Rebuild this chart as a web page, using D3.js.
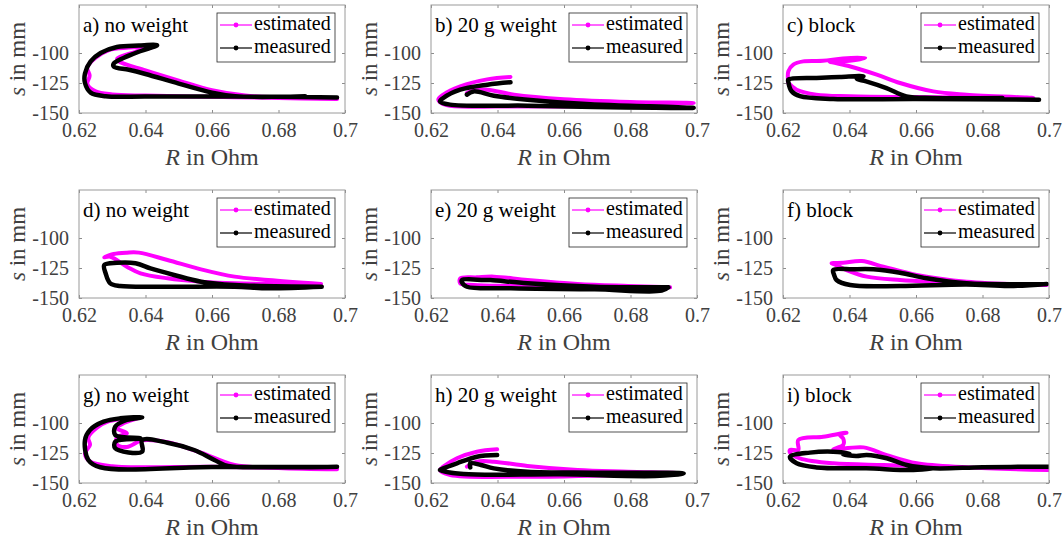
<!DOCTYPE html>
<html>
<head>
<meta charset="utf-8">
<script src="https://cdn.jsdelivr.net/npm/d3@7"></script>
<style>
body { margin: 0; background: #fff; }
svg { display: block; }
</style>
</head>
<body>
<svg width="1063" height="542"></svg>
<script>
var xTicks = [0.62, 0.64, 0.66, 0.68, 0.7];
var yTicks = [-150, -125, -100];
var titles = ["a) no weight", "b) 20 g weight", "c) block",
              "d) no weight", "e) 20 g weight", "f) block",
              "g) no weight", "h) 20 g weight", "i) block"];
var legendLabels = ["estimated", "measured"];

// [R in Ohm, s in mm]
var estA = [[0.6976,-138.3],[0.68,-137.5],[0.66,-136.5],[0.64,-135.5],[0.63,-134.5],[0.625,-132],[0.6225,-126],[0.6232,-119],[0.6225,-112],[0.625,-104],[0.629,-97.5],[0.635,-95.5],[0.6425,-94.5],[0.637,-99],[0.6315,-104.5],[0.632,-107],[0.64,-114.5],[0.65,-123],[0.66,-131],[0.67,-135.5],[0.68,-137],[0.6976,-138.3]];
var measA = [[0.6976,-137],[0.68,-136.5],[0.66,-136.3],[0.64,-136.2],[0.628,-136],[0.6235,-133],[0.6218,-125],[0.6218,-117],[0.6235,-107],[0.6265,-100],[0.6314,-95],[0.638,-93.8],[0.6435,-93.6],[0.637,-100],[0.6304,-109],[0.6305,-111.5],[0.635,-114],[0.64,-117.5],[0.65,-125.5],[0.66,-133],[0.667,-136],[0.68,-136.5],[0.688,-136]];

var estB = [[0.6439,-120],[0.6369,-122],[0.6288,-127.8],[0.6237,-134.7],[0.6222,-138.9],[0.6247,-143.5],[0.64,-144.5],[0.66,-144.5],[0.68,-143],[0.699,-141.7],[0.68,-140.8],[0.66,-138.5],[0.645,-134.7],[0.637,-130.6],[0.633,-131],[0.6308,-133.3]];
var measB = [[0.6439,-124.4],[0.637,-126.4],[0.6288,-130.6],[0.6237,-137.5],[0.6227,-140.3],[0.6257,-143],[0.649,-143.9],[0.6692,-145],[0.699,-145.8],[0.6859,-144.4],[0.6692,-143],[0.649,-138.9],[0.6389,-135.6],[0.6328,-132],[0.6308,-134.7]];

var estC = [[0.6216,-125],[0.6216,-115.3],[0.6231,-109.7],[0.6261,-107],[0.632,-106.5],[0.638,-104.5],[0.6447,-104],[0.64,-106.5],[0.634,-107],[0.64,-111],[0.6482,-118],[0.6552,-125],[0.6652,-132],[0.6752,-134.7],[0.6953,-137.5],[0.68,-137],[0.66,-136.7],[0.64,-136],[0.63,-134.7],[0.6241,-130.6],[0.6216,-125]];
var measC = [[0.697,-138.9],[0.66,-138.3],[0.6351,-138.3],[0.6251,-136],[0.6226,-131.9],[0.6216,-124],[0.6216,-122.2],[0.6301,-120.8],[0.6371,-120],[0.6442,-119.4],[0.6422,-121.5],[0.645,-123.6],[0.6511,-129.2],[0.6571,-136.1],[0.665,-137.5],[0.686,-137.5]];

var estD = [[0.6928,-138.3],[0.6769,-135],[0.6668,-132.2],[0.6567,-126.1],[0.6466,-118.3],[0.638,-112.2],[0.6344,-112.2],[0.6304,-113.3],[0.6276,-116.1],[0.6294,-115.6],[0.6344,-123.9],[0.6385,-129.4],[0.6466,-133.6],[0.6567,-136.4],[0.6668,-137.8],[0.69,-138.3]];
var measD = [[0.693,-140.6],[0.6668,-139.2],[0.6567,-136.4],[0.6486,-130.8],[0.6415,-125.3],[0.637,-121],[0.6314,-120.6],[0.6276,-122.5],[0.628,-129.4],[0.6294,-137.8],[0.6324,-140],[0.6466,-140.6],[0.6668,-140.6],[0.6769,-141.9],[0.693,-140.6]];

var estE = [[0.6919,-141.1],[0.6793,-140],[0.6641,-138.3],[0.649,-135],[0.6389,-132.2],[0.6338,-132.8],[0.6288,-133.6],[0.6288,-137.8],[0.6328,-139.2],[0.644,-140],[0.664,-140.6],[0.6919,-141.1]];
var measE = [[0.6914,-141.1],[0.6692,-140.6],[0.649,-137.8],[0.6379,-135],[0.6359,-135],[0.6293,-135],[0.6293,-137],[0.6308,-140.6],[0.644,-141.9],[0.6692,-142.8],[0.6894,-143.9],[0.6914,-141.1]];

var estF = [[0.6993,-139.2],[0.6752,-136.4],[0.6602,-130.8],[0.6502,-123.9],[0.6437,-119.2],[0.6381,-120.6],[0.6346,-121.1],[0.6355,-122],[0.6391,-126.7],[0.6452,-132.2],[0.6552,-135],[0.6652,-136.4],[0.6993,-139.2]];
var measF = [[0.6993,-138.3],[0.6752,-137.8],[0.6632,-133.6],[0.6552,-128.9],[0.6472,-126.1],[0.641,-126.1],[0.6351,-126.7],[0.6354,-131],[0.6361,-135],[0.6402,-139.2],[0.6552,-140],[0.6752,-138.8],[0.6883,-140],[0.6993,-138.3]];

var estG = [[0.6976,-138.6],[0.68,-137.5],[0.66,-136.5],[0.63,-136],[0.6233,-132],[0.6218,-125.3],[0.6233,-118.3],[0.6228,-112],[0.6254,-104],[0.629,-98.5],[0.635,-96],[0.638,-95.6],[0.6335,-100],[0.6314,-104.4],[0.6344,-108.6],[0.6314,-112],[0.6314,-118],[0.6344,-120],[0.639,-114.5],[0.6466,-116],[0.6567,-124.7],[0.6668,-135],[0.68,-137.5],[0.6976,-138.6]];
var measG = [[0.6976,-136.4],[0.66,-136.7],[0.6264,-136.9],[0.6228,-130.8],[0.6218,-114.2],[0.6233,-105.8],[0.6274,-98.9],[0.6324,-96.1],[0.639,-95.3],[0.6344,-97.5],[0.6309,-103],[0.6309,-110],[0.6385,-112.8],[0.6309,-115.6],[0.6309,-121.1],[0.639,-123.9],[0.639,-114.2],[0.6466,-116.4],[0.6546,-122.5],[0.6607,-130.8],[0.6648,-135.8],[0.6769,-136.9],[0.6976,-136.4]];

var estH = [[0.6399,-121.9],[0.6338,-123.9],[0.6278,-129.4],[0.6237,-136.4],[0.6227,-139.2],[0.6258,-143.3],[0.649,-144.7],[0.66,-144.5],[0.6955,-141.9],[0.6793,-140.6],[0.6641,-139.2],[0.649,-135.8],[0.6389,-132.2],[0.6338,-132.2],[0.6308,-136.4]];
var measH = [[0.6399,-126.7],[0.6338,-128.1],[0.6278,-133.6],[0.6237,-137.8],[0.6227,-139.2],[0.6298,-142.5],[0.6591,-142.8],[0.6874,-144.2],[0.696,-141.9],[0.6692,-141.4],[0.649,-140.6],[0.6389,-137.8],[0.635,-135],[0.6318,-133.6],[0.6318,-137]];

var estI = [[0.6998,-139.2],[0.6752,-136.9],[0.6602,-133.6],[0.6512,-126.7],[0.6442,-120.3],[0.6351,-121.9],[0.6381,-118.3],[0.6381,-113],[0.6371,-110],[0.6391,-108.1],[0.6321,-111.4],[0.6246,-114.2],[0.6246,-122.5],[0.6221,-122.5],[0.6221,-124.5],[0.6251,-129.4],[0.6351,-133.6],[0.6502,-135],[0.6602,-135.8],[0.68,-137.5],[0.6998,-139.2]];
var measI = [[0.6998,-136.4],[0.68,-136.8],[0.6652,-137.8],[0.6572,-135],[0.6512,-129.4],[0.6452,-126.7],[0.642,-127.5],[0.638,-126],[0.64,-125.5],[0.6351,-123.9],[0.6281,-124.7],[0.6221,-128.1],[0.6241,-133.6],[0.6301,-137],[0.645,-137.8],[0.6592,-139.2],[0.665,-137.8]];

var panels = [[estA, measA], [estB, measB], [estC, measC],
              [estD, measD], [estE, measE], [estF, measF],
              [estG, measG], [estH, measH], [estI, measI]];

var svg = d3.select("svg");
var W = 266, H = 108;
var lefts = [79, 431, 783], tops = [5, 190, 375];
var serif = "Liberation Serif, DejaVu Serif, Times New Roman, serif";
var grey = "#404040";

var x = d3.scaleLinear().domain([0.62, 0.7]).range([0, W]);
var y = d3.scaleLinear().domain([-150, -60]).range([H, 0]);
var line = d3.line()
  .x(function (d) { return x(d[0]); })
  .y(function (d) { return y(d[1]); })
  .curve(d3.curveCatmullRom.alpha(0.5));
var colors = ["#ff00ff", "#000000"];
var widths = [4, 4.5];

panels.forEach(function (p, i) {
  var g = svg.append("g")
    .attr("transform", "translate(" + lefts[i % 3] + "," + tops[Math.floor(i / 3)] + ")");

  g.append("clipPath").attr("id", "clip" + i)
    .append("rect").attr("width", W).attr("height", H);

  // curves
  var plot = g.append("g").attr("clip-path", "url(#clip" + i + ")");
  p.forEach(function (series, k) {
    plot.append("path")
      .datum(series)
      .attr("d", line)
      .attr("fill", "none")
      .attr("stroke", colors[k])
      .attr("stroke-width", widths[k])
      .attr("stroke-linejoin", "round")
      .attr("stroke-linecap", "round");
  });

  // axes
  var xa = g.append("g").attr("transform", "translate(0," + H + ")")
    .call(d3.axisBottom(x).tickValues(xTicks).tickSize(-3).tickPadding(10)
      .tickFormat(function (d) { return String(d); }));
  var ya = g.append("g")
    .call(d3.axisLeft(y).tickValues(yTicks).tickSize(-3).tickPadding(10)
      .tickFormat(function (d) { return String(d); }));
  var xt = g.append("g").call(d3.axisTop(x).tickValues(xTicks).tickSize(-3).tickFormat(""));
  var yr = g.append("g").attr("transform", "translate(" + W + ",0)")
    .call(d3.axisRight(y).tickValues(yTicks).tickSize(-3).tickFormat(""));

  [xa, ya, xt, yr].forEach(function (a) {
    a.select(".domain").remove();
    a.attr("font-family", null).attr("font-size", null);
    a.selectAll("line").attr("stroke", "#8c8c8c");
    a.selectAll("text").attr("fill", grey).attr("font-family", serif).attr("font-size", 20);
  });

  g.append("rect").attr("width", W).attr("height", H)
    .attr("fill", "none").attr("stroke", "#9a9a9a").attr("stroke-width", 1);

  // axis labels
  var xl = g.append("text")
    .attr("x", W / 2).attr("y", H + 52)
    .attr("text-anchor", "middle")
    .attr("fill", grey)
    .attr("font-family", serif).attr("font-size", 24);
  xl.append("tspan").attr("font-style", "italic").text("R");
  xl.append("tspan").text(" in Ohm");

  var yl = g.append("text")
    .attr("transform", "translate(-54," + (H / 2) + ") rotate(-90)")
    .attr("text-anchor", "middle")
    .attr("fill", grey)
    .attr("font-family", serif).attr("font-size", 23);
  yl.append("tspan").attr("font-style", "italic").text("s");
  yl.append("tspan").text(" in mm");

  // panel title
  g.append("text")
    .attr("x", 4).attr("y", 27)
    .attr("fill", "#000")
    .attr("font-family", serif).attr("font-size", 21)
    .text(titles[i]);

  // legend
  var lw = 118, lh = 49;
  var lg = g.append("g").attr("transform", "translate(" + (W - 10 - lw) + ",8)");
  lg.append("rect").attr("width", lw).attr("height", lh)
    .attr("fill", "#fff").attr("stroke", "#262626").attr("stroke-width", 0.8);
  legendLabels.forEach(function (lab, k) {
    var yy = 12 + k * 23;
    lg.append("line").attr("x1", 3).attr("x2", 35).attr("y1", yy).attr("y2", yy)
      .attr("stroke", colors[k]).attr("stroke-width", 1.2);
    lg.append("circle").attr("cx", 19).attr("cy", yy).attr("r", 2.4).attr("fill", colors[k]);
    lg.append("text").attr("x", 37).attr("y", yy + 5)
      .attr("fill", "#000")
      .attr("font-family", serif).attr("font-size", 20)
      .text(lab);
  });
});
</script>
</body>
</html>
